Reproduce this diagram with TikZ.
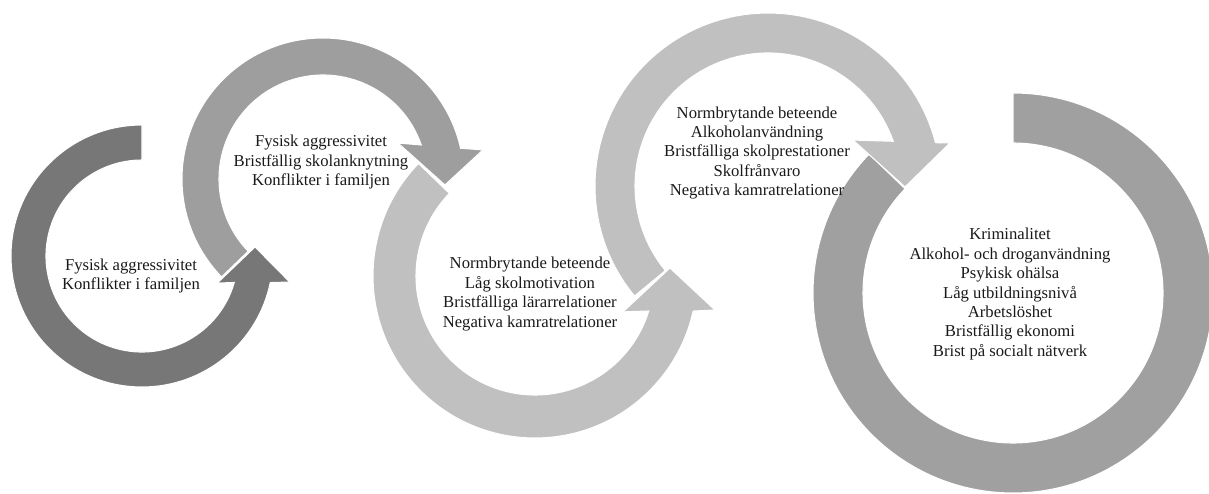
\documentclass[tikz,border=0pt]{standalone}
\usepackage{fontspec}
\setmainfont{Liberation Serif}
\usepackage{tikz}

\definecolor{darkring}{HTML}{777777}
\definecolor{midring}{HTML}{9E9E9E}
\definecolor{lightring}{HTML}{C0C0C0}
\definecolor{endring}{HTML}{A0A0A0}

\begin{document}
\begin{tikzpicture}[x=0.75pt,y=0.75pt,
  ring/.style={draw=white,line width=0.8pt},
  lbl/.style={align=center,text=black!90,font=\fontsize{12.5}{14.6}\selectfont}]
\useasboundingbox (0,0) rectangle (1209,493);
% ring centres
\coordinate (c1) at (142,237);
\coordinate (c2) at (323,314);
\coordinate (c3) at (535,217);
\coordinate (c4) at (768,307);
\coordinate (c5) at (1013,200);

% last ring, no head
\filldraw[ring,fill=endring,shift={(c5)}] (90:200) arc[start angle=90,end angle=-224,radius=200]
  -- (-224:150) arc[start angle=-224,end angle=90,radius=150] -- cycle;
% fourth arrow
\filldraw[ring,fill=lightring,shift={(c4)}] (219.5:173) arc[start angle=219.5,end angle=14.5,radius=173]
  -- (13.3:187) -- (-0.4:137) -- (28.4:96.6)
  -- (19.65:133) arc[start angle=19.65,end angle=219.5,radius=133] -- cycle;
% third arrow
\filldraw[ring,fill=lightring,shift={(c3)}] (136:162) arc[start angle=136,end angle=347.5,radius=162]
  -- (349.3:183.2) -- (363.4:135.2) -- (337.8:95)
  -- (342.9:119) arc[start angle=342.9,end angle=136,radius=119] -- cycle;
% second arrow
\filldraw[ring,fill=midring,shift={(c2)}] (224:141) arc[start angle=224,end angle=12.6,radius=141]
  -- (10.3:162.6) -- (-2.8:122.1) -- (25.6:83.2)
  -- (19.1:104) arc[start angle=19.1,end angle=224,radius=104] -- cycle;
% first arrow
\filldraw[ring,fill=darkring,shift={(c1)}] (90:131) arc[start angle=90,end angle=348.3,radius=131]
  -- (350:150) -- (364.6:113.4) -- (340.2:80)
  -- (344:96) arc[start angle=344,end angle=90,radius=96] -- cycle;

% texts
\node[lbl] (t1) at (131,217) {Fysisk aggressivitet\\Konflikter i familjen};
\node[lbl] (t2) at (321,331) {Fysisk aggressivitet\\Bristfällig skolanknytning\\Konflikter i familjen};
\node[lbl] (t3) at (530,199) {Normbrytande beteende\\Låg skolmotivation\\Bristfälliga lärarrelationer\\Negativa kamratrelationer};
\node[lbl] (t4) at (757,340) {Normbrytande beteende\\Alkoholanvändning\\Bristfälliga skolprestationer\\Skolfrånvaro\\Negativa kamratrelationer};
\node[lbl] (t5) at (1010,199) {Kriminalitet\\Alkohol- och droganvändning\\Psykisk ohälsa\\Låg utbildningsnivå\\Arbetslöshet\\Bristfällig ekonomi\\Brist på socialt nätverk};
\end{tikzpicture}
\end{document}
